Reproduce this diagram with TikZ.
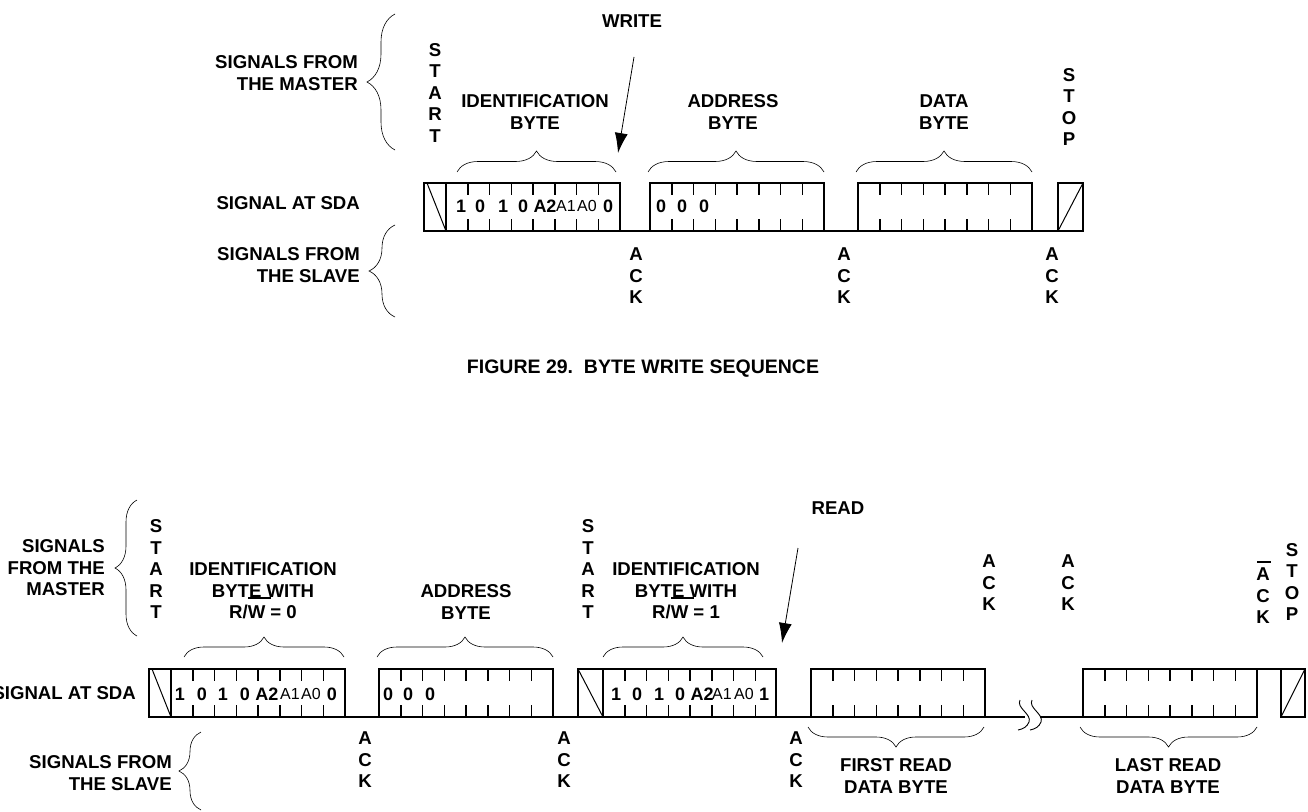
\documentclass[tikz,border=0pt]{standalone}
\usepackage{fontspec}
\setmainfont{Liberation Sans}
\usetikzlibrary{positioning,arrows.meta,decorations.pathreplacing}
\tikzset{
  lab/.style={font=\bfseries\fontsize{18.6}{21.5}\selectfont, align=center, inner sep=0pt},
  labright/.style={lab, align=right, anchor=east},
  bitbold/.style={font=\bfseries\fontsize{18}{18}\selectfont, inner sep=0pt},
  bitlight/.style={font=\fontsize{16}{16}\selectfont, inner sep=0pt},
  bytecell/.style={draw, line width=1.5pt, minimum width=174pt, minimum height=48pt, anchor=north west, inner sep=0pt, outer sep=0pt},
  edgecell/.style={draw, line width=1.5pt, minimum width=#1, minimum height=48pt, anchor=north west, inner sep=0pt, outer sep=0pt},
  sig/.style={line width=1.5pt},
  bracket/.style={decorate, decoration={brace, amplitude=#1}, line width=0.6pt},
  pointer/.style={line width=0.8pt, -{Latex[length=20pt, width=13pt]}}
}
% ticks of one byte
\newcommand{\byteticks}[1]{
  \foreach \k in {1,...,7} {
    \draw[sig] ([xshift=\k*21.75pt]#1.north west) -- ++(0,12);
    \draw[sig] ([xshift=\k*21.75pt]#1.south west) -- ++(0,-12);
  }
}
% the bits written in a byte
\newcommand{\idbits}[4]{
  \foreach \pos/\txt/\sty/\nm in {#4} {
    \node[\sty] (#1\nm) at (#2+\pos,#3) {\txt};
  }
}
\begin{document}
\begin{tikzpicture}[x=1pt,y=-1pt]
\useasboundingbox (0,0) rectangle (1308,811);

% upper sequence
\node[lab] (write) at (632,21) {WRITE};
\node[labright] (masterA) at (358,73) {SIGNALS FROM\\THE MASTER};
\node[lab] (startA) at (435,93) {S\\T\\A\\R\\T};
\node[lab] (idA) at (535,112) {IDENTIFICATION\\BYTE};
\node[lab] (addrA) at (733,112) {ADDRESS\\BYTE};
\node[lab] (dataA) at (944,112) {DATA\\BYTE};
\node[lab] (stopA) at (1069,107) {S\\T\\O\\P};
\node[labright] (sdaA) at (360,203) {SIGNAL AT SDA};
\node[labright] (slaveA) at (360,265) {SIGNALS FROM\\THE SLAVE};
\node[lab] (ackA) at (636,276) {A\\C\\K};
\node[lab] (ackB) at (844,276) {A\\C\\K};
\node[lab] (ackC) at (1052,276) {A\\C\\K};

\node[edgecell=22pt] (sA) at (424,183) {};
\node[bytecell] (bA) at (446,183) {};
\node[bytecell] (bB) at (650,183) {};
\node[bytecell] (bC) at (858,183) {};
\node[edgecell=25pt] (pA) at (1058,183) {};
\byteticks{bA} \byteticks{bB} \byteticks{bC}
\draw[line width=1pt] ([xshift=3pt]sA.north west) -- (sA.south east);
\draw[line width=1pt] (pA.south west) -- (pA.north east);
\draw[sig] (bA.south east) -- (bB.south west);
\draw[sig] (bB.south east) -- (bC.south west);
\draw[sig] (bC.south east) -- ([xshift=4pt]pA.south west);

\idbits{ba}{446}{206}{15/1/bitbold/a,34/0/bitbold/b,57/1/bitbold/c,77/0/bitbold/d,99/A2/bitbold/e,120/A1/bitlight/f,141/A0/bitlight/g,162/0/bitbold/h}
\idbits{bb}{650}{206}{11/0/bitbold/a,32/0/bitbold/b,54/0/bitbold/c}

\draw[bracket=21pt] (457,172) -- (616,172);
\draw[bracket=21pt] (648,172) -- (824,172);
\draw[bracket=21pt] (856,172) -- (1032,172);
\draw[bracket=28pt] (395,150) -- (395,14);
\draw[bracket=26pt] (395,317) -- (395,225);

\coordinate (writefrom) at (634,57);
\coordinate (writeto) at (618,153);
\draw[pointer] (writefrom) -- (writeto);

\node[font=\bfseries\fontsize{19.5}{19.5}\selectfont, inner sep=0pt] (capA) at (643,369) {FIGURE 29.\ \ BYTE WRITE SEQUENCE};

% lower sequence
\node[lab] (read) at (838,508) {READ};
\node[labright] (masterB) at (105,568) {SIGNALS\\FROM THE\\MASTER};
\node[lab] (startB) at (156,569) {S\\T\\A\\R\\T};
\node[lab] (idB) at (263,591) {IDENTIFICATION\\BYTE WITH\\R/W = 0};
\node[lab] (addrB) at (466,602) {ADDRESS\\BYTE};
\node[lab] (startC) at (588,569) {S\\T\\A\\R\\T};
\node[lab] (idC) at (686,591) {IDENTIFICATION\\BYTE WITH\\R/W = 1};
\node[lab] (ackD) at (989,583) {A\\C\\K};
\node[lab] (ackE) at (1068,583) {A\\C\\K};
\node[lab] (ackF) at (1263,596) {A\\C\\K};
\node[lab] (stopB) at (1292,582) {S\\T\\O\\P};
\node[labright] (sdaB) at (136,693) {SIGNAL AT SDA};
\node[labright] (slaveB) at (172,773) {SIGNALS FROM\\THE SLAVE};
\node[lab] (ackG) at (365,760) {A\\C\\K};
\node[lab] (ackH) at (564,760) {A\\C\\K};
\node[lab] (ackI) at (796,760) {A\\C\\K};
\node[lab] (first) at (896,776) {FIRST READ\\DATA BYTE};
\node[lab] (last) at (1168,776) {LAST READ\\DATA BYTE};

\draw[line width=1.2pt] (248,598) -- (271,598);
\draw[line width=1.2pt] (671,598) -- (694,598);
\draw[line width=1.2pt] (1257,562) -- (1271,562);

\node[edgecell=22pt] (sB) at (149,669) {};
\node[bytecell] (bD) at (171,669) {};
\node[bytecell] (bE) at (379,669) {};
\node[edgecell=25pt] (sC) at (578,669) {};
\node[bytecell, minimum width=173pt] (bF) at (603,669) {};
\node[bytecell] (bG) at (811,669) {};
\node[bytecell] (bH) at (1083,669) {};
\node[edgecell=24pt] (pB) at (1281,669) {};
\byteticks{bD} \byteticks{bE} \byteticks{bF} \byteticks{bG} \byteticks{bH}
\draw[line width=1pt] ([xshift=3pt]sB.north west) -- (sB.south east);
\draw[line width=1pt] (sC.north west) -- (sC.south east);
\draw[line width=1pt] (pB.south west) -- (pB.north east);
\draw[sig] (bD.south east) -- (bE.south west);
\draw[sig] (bE.south east) -- (sC.south west);
\draw[sig] (bF.south east) -- (bG.south west);
\draw[sig] (bH.north east) -- (pB.north west);
\coordinate (gapl) at (1025,717);
\coordinate (gapr) at (1040,717);
\draw[sig] (bG.south east) -- (gapl);
\draw[sig] (gapr) -- (bH.south west);
\draw[line width=0.9pt] (1020,700) .. controls (1016,708) and (1032,714) .. (1029,722) .. controls (1027,727) and (1023,729) .. (1018,730);
\draw[line width=0.9pt] (1032,700) .. controls (1028,708) and (1044,714) .. (1041,722) .. controls (1039,727) and (1035,729) .. (1030,730);

\idbits{bd}{171}{694}{9/1/bitbold/a,31/0/bitbold/b,52/1/bitbold/c,74/0/bitbold/d,96/A2/bitbold/e,119/A1/bitlight/f,140/A0/bitlight/g,161/0/bitbold/h}
\idbits{be}{379}{694}{9/0/bitbold/a,29/0/bitbold/b,51/0/bitbold/c}
\idbits{bf}{603}{694}{13/1/bitbold/a,34/0/bitbold/b,56/1/bitbold/c,77/0/bitbold/d,99/A2/bitbold/e,119/A1/bitlight/f,141/A0/bitlight/g,161/1/bitbold/h}

\draw[bracket=20pt] (184,657) -- (344,657);
\draw[bracket=20pt] (377,657) -- (553,657);
\draw[bracket=20pt] (603,657) -- (763,657);
\draw[bracket=20pt] (984,727) -- (808,727);
\draw[bracket=20pt] (1257,727) -- (1080,727);
\draw[bracket=22pt] (137,636) -- (137,500);
\draw[bracket=22pt] (201,810) -- (201,732);

\coordinate (readfrom) at (798,548);
\coordinate (readto) at (782,643);
\draw[pointer] (readfrom) -- (readto);
\end{tikzpicture}
\end{document}
